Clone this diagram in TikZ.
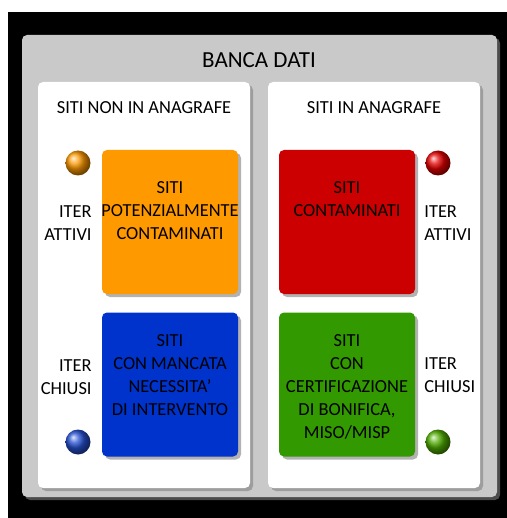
\documentclass[tikz,border=0pt]{standalone}
\usepackage{fontspec}
\setmainfont{Carlito}
\usetikzlibrary{shadows, positioning}
\definecolor{potorange}{RGB}{255,153,0}
\definecolor{contred}{RGB}{204,0,0}
\definecolor{nonecblue}{RGB}{0,51,204}
\definecolor{certgreen}{RGB}{51,153,0}

\begin{document}
\begin{tikzpicture}[x=0.5pt, y=-0.5pt,
  panel/.style={fill=#1, rounded corners=2.5pt,
                drop shadow={shadow xshift=1.5pt, shadow yshift=-1.5pt, opacity=0.6}},
  site/.style={fill=#1, rounded corners=2.5pt, minimum width=68pt, minimum height=72pt,
               inner sep=0pt, drop shadow={shadow xshift=1.5pt, shadow yshift=-1.5pt, opacity=0.6}},
  sitetxt/.style={font=\fontsize{9.2}{11.5}\selectfont, align=center, anchor=north, inner sep=0pt},
  lamp/.style={circle, shading=ball, ball color=#1, minimum size=12.5pt, inner sep=0pt},
  iter/.style={font=\fontsize{9.2}{11.5}\selectfont, align=#1, inner sep=0pt},
  hdr/.style={font=\fontsize{9.2}{11.5}\selectfont, inner sep=0pt},
]
\useasboundingbox (0,0) rectangle (507,518);
% frame and panels
\fill[black] (8,12) rectangle (507,518);
\path[panel=black!21] (22,35) rectangle (497,497);
\node[font=\fontsize{11.5}{14}\selectfont, inner sep=0pt] (title) at (259,60) {BANCA DATI};
\path[panel=white] (38,82) rectangle (250,488);
\path[panel=white] (268,82) rectangle (480,488);
\node[hdr] (nonana) at (144,108) {SITI NON IN ANAGRAFE};
\node[hdr] (inana)  at (374,108) {SITI IN ANAGRAFE};

% site boxes
\node[site=potorange] (pot)   at (170,222)   {};
\node[site=contred]   (cont)  at (347,222)   {};
\node[site=nonecblue] (nonec) at (170,384.5) {};
\node[site=certgreen] (cert)  at (347,384.5) {};

\node[sitetxt] (potTxt)   at ([yshift=-16pt]pot.north)   {SITI\\POTENZIALMENTE\\CONTAMINATI};
\node[sitetxt] (contTxt)  at ([yshift=-16pt]cont.north)  {SITI\\CONTAMINATI};
\node[sitetxt] (nonecTxt) at ([yshift=-11pt]nonec.north) {SITI\\CON MANCATA\\NECESSITA’\\DI INTERVENTO};
\node[sitetxt] (certTxt)  at ([yshift=-11pt]cert.north)  {SITI\\CON\\CERTIFICAZIONE\\DI BONIFICA,\\MISO/MISP};

% lamps
\node[lamp=potorange]        (lampPot)   at (78,163)  {};
\node[lamp=red!90!black]     (lampCont)  at (438,163) {};
\node[lamp=nonecblue!85]     (lampNonec) at (78,442)  {};
\node[lamp=certgreen!80!lime] (lampCert) at (438,442) {};

% iter labels
\node[iter=right, anchor=north east] (attL) at (92,205)  {ITER\\ATTIVI};
\node[iter=left,  anchor=north west] (attR) at (424,205) {ITER\\ATTIVI};
\node[iter=right, anchor=north east] (chiL) at (92,359)  {ITER\\CHIUSI};
\node[iter=left,  anchor=north west] (chiR) at (424,357) {ITER\\CHIUSI};
\end{tikzpicture}
\end{document}
